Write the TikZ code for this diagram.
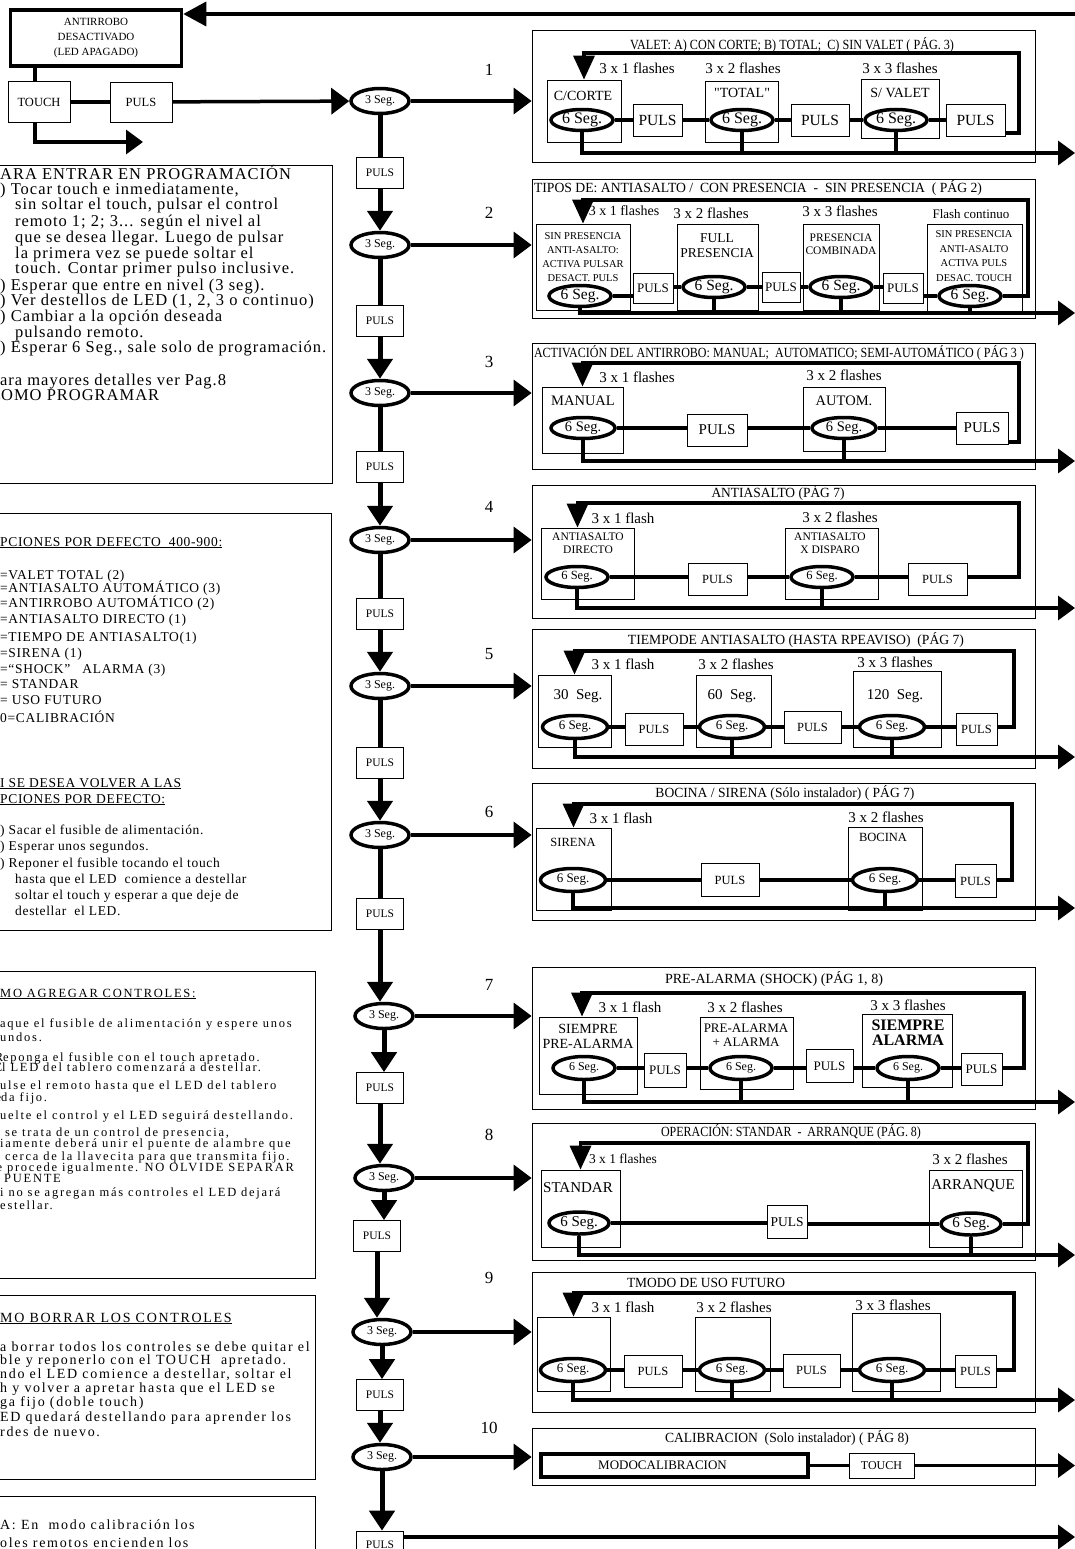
\documentclass[tikz,border=0pt]{standalone}
\usepackage{fontspec}
\usepackage{graphicx}
\setmainfont{Liberation Serif}
\newfontfamily\notefontA[LetterSpace=6]{Liberation Serif}
\newfontfamily\notefontB[LetterSpace=5]{Liberation Serif}
\newfontfamily\notefontC[LetterSpace=14]{Liberation Serif}
\newfontfamily\notefontD[LetterSpace=12]{Liberation Serif}
\newfontfamily\plainquote[Ligatures=TeXOff]{Liberation Serif}
\usetikzlibrary{arrows.meta,positioning,shapes.geometric}

\newcommand{\fsz}[1]{\fontsize{#1}{#1}\selectfont}
\newcommand{\fszb}[2]{\fontsize{#1}{#2}\selectfont}
\newcommand{\paneltitle}[2]{\resizebox{#1pt}{\height}{#2}}

\begin{document}
\begin{tikzpicture}[
  x=1pt, y=-1pt,
  thickline/.style  = {line width=3.5pt},
  bigarrow/.style   = {line width=3.5pt, -{Triangle[length=17pt,width=24pt]}},
  toparrow/.style   = {line width=3.5pt, -{Triangle[length=23pt,width=24pt]}},
  entryarrow/.style = {line width=3.5pt, -{Triangle[length=18pt,width=26pt]}},
  looparrow/.style  = {line width=3.5pt, -{Triangle[length=24pt,width=21pt]}},
  downarrow/.style  = {line width=5pt, -{Triangle[length=20pt,width=25pt]}},
  panel/.style      = {draw, line width=0.8pt, minimum width=503pt, inner sep=0pt},
  optbox/.style     = {draw, line width=0.8pt, inner sep=0pt},
  pulsbox/.style    = {draw, line width=0.8pt, fill=white, inner sep=0.5pt, minimum height=32pt},
  sixseg/.style     = {ellipse, draw, line width=3.5pt, fill=white, inner sep=0pt, minimum width=62pt, minimum height=21pt},
  threeseg/.style   = {ellipse, draw, line width=3.5pt, fill=white, inner sep=0pt, minimum width=58pt, minimum height=25pt, font=\fsz{12}},
  colpuls/.style    = {draw, line width=0.8pt, fill=white, minimum width=47pt, minimum height=31pt, inner sep=0pt, font=\fsz{11.5}},
  sidebox/.style    = {draw, line width=0.8pt, inner sep=0pt, font=\fsz{12.5}},
  flashlbl/.style   = {inner sep=0pt, font=\fsz{15}},
  optlbl/.style     = {inner sep=0pt, align=center},
  titlelbl/.style   = {inner sep=0pt, font=\fsz{14}},
  numlbl/.style     = {inner sep=0pt, font=\fsz{17}},
  noteframe/.style  = {draw, line width=0.8pt, inner sep=0pt},
  noteA/.style      = {anchor=base west, inner sep=0pt, font=\notefontA\fsz{16.5}},
  noteB/.style      = {anchor=base west, inner sep=0pt, font=\notefontB\fsz{13.5}},
  noteC/.style      = {anchor=base west, inner sep=0pt, font=\notefontC\fsz{12.5}},
  noteD/.style      = {anchor=base west, inner sep=0pt, font=\notefontD\fsz{14}},
]

  \useasboundingbox (0,0) rectangle (1075,1549);
  \clip (0,0) rectangle (1075,1549);
  \coordinate (redge) at (1075,0);

  % ---- start: antirrobo desactivado
  \node[draw, line width=3.5pt, minimum width=171pt, minimum height=56pt, inner sep=0pt, align=center, font=\fszb{11}{15}] (anti) at (96,38) {ANTIRROBO\\DESACTIVADO\\(LED APAGADO)};
  \node[sidebox, minimum width=62pt, minimum height=41pt] (touch) at (39,102) {TOUCH};
  \node[sidebox, minimum width=62pt, minimum height=40pt] (puls0) at (141,102) {PULS};
  \coordinate (topin) at (1075,14);
  \coordinate (touchout) at (143,142);
  \draw[toparrow] (topin) -- (topin -| anti.east);
  \draw[thickline] ([xshift=-4pt]touch.north) -- ([xshift=-4pt]touch.north |- anti.south);
  \draw[thickline] (touch) -- (puls0);
  \draw[bigarrow] ([xshift=-4pt]touch.south) |- (touchout);

  % ---- main column
  \node[threeseg] (s1) at (380,101) {3 Seg.};
  \node[threeseg] (s2) at (380,245) {3 Seg.};
  \node[threeseg] (s3) at (380,393) {3 Seg.};
  \node[threeseg] (s4) at (380,540) {3 Seg.};
  \node[threeseg] (s5) at (380,686) {3 Seg.};
  \node[threeseg] (s6) at (380,835) {3 Seg.};
  \node[threeseg] (s7) at (384,1016) {3 Seg.};
  \node[threeseg] (s8) at (384,1178) {3 Seg.};
  \node[threeseg] (s9) at (382,1332) {3 Seg.};
  \node[threeseg] (s10) at (382,1457) {3 Seg.};
  \node[colpuls] (c1) at (380,173) {PULS};
  \node[colpuls] (c2) at (380,321) {PULS};
  \node[colpuls] (c3) at (380,467) {PULS};
  \node[colpuls] (c4) at (380,614) {PULS};
  \node[colpuls] (c5) at (380,763) {PULS};
  \node[colpuls] (c6) at (380,914) {PULS};
  \node[colpuls] (c7) at (380,1088) {PULS};
  \node[colpuls] (c8) at (377,1236) {PULS};
  \node[colpuls] (c9) at (380,1395) {PULS};
  \node[colpuls, minimum height=28pt] (c10) at (380,1545) {PULS};
  \foreach \i/\yy in {1/70,2/213,3/362,4/507,5/654,6/812,7/985,8/1135,9/1278,10/1428}
    \node[numlbl] (n\i) at (489,\yy) {\i};

  \draw[entryarrow] (puls0) -- (s1);
  \foreach \i/\j in {1/2,2/3,3/4,4/5,5/6,6/7,7/8,8/9,9/10}
    \draw[downarrow] (c\i.south) -- (c\i.south |- s\j.north);
  \foreach \i in {1,...,6}
    \draw[line width=5pt] (s\i.south) -- (s\i.south |- c\i.north);
  \foreach \i in {7,...,10}
    \draw[downarrow] (s\i.south) -- (s\i.south |- c\i.north);
  \draw[bigarrow] ([yshift=8pt]c10.east) -- ([yshift=8pt]c10.east -| redge);

  % ---- level 1: valet
  \node[panel, minimum height=132pt] (p1) at (783.5,96) {};
  \node[titlelbl] (h1) at (792,45) {\paneltitle{324}{VALET: A) CON CORTE; B) TOTAL;~~C) SIN VALET ( PÁG. 3)}};
  \node[optbox, minimum width=74pt, minimum height=62pt] (b11) at (584,111) {};
  \node[optbox, minimum width=73pt, minimum height=61pt] (b12) at (741.5,111.5) {};
  \node[optbox, minimum width=78pt, minimum height=59pt] (b13) at (900,108.5) {};
  \node[flashlbl] (f11) at (637,68) {3 x 1 flashes};
  \node[flashlbl] (f12) at (743,68) {3 x 2 flashes};
  \node[flashlbl] (f13) at (900,68) {3 x 3 flashes};
  \node[optlbl, font=\fsz{14}] (t11) at (583,96) {C/CORTE};
  \node[optlbl, font=\fsz{14}] (t12) at (742,93) {{\plainquote"}TOTAL{\plainquote"}};
  \node[optlbl, font=\fsz{14}] (t13) at (900,93) {S/ VALET};
  \node[sixseg, font=\fsz{16}] (e11) at (582,120) {6 Seg.};
  \node[sixseg, font=\fsz{16}] (e12) at (742,120) {6 Seg.};
  \node[sixseg, font=\fsz{16}] (e13) at (896,120) {6 Seg.};
  \node[pulsbox, minimum width=49pt, font=\fsz{15.5}] (u11) at (657.5,120) {PULS};
  \node[pulsbox, minimum width=58pt, font=\fsz{15.5}] (u12) at (820,120) {PULS};
  \node[pulsbox, minimum width=59pt, font=\fsz{15.5}] (u13) at (975.5,120) {PULS};
  \coordinate (r1) at (1019,53);
  \coordinate (x1) at (1075,153);
  \draw[thickline] (e11) -- (u11) -- (e12) -- (u12) -- (e13) -- (u13);
  \draw[looparrow] ([yshift=-13pt]u13.east) -| (r1) -| (b11.north);
  \draw[bigarrow] (e11.south) |- (x1);
  \draw[thickline] (e12.south) -- (e12.south |- x1);
  \draw[thickline] (e13.south) -- (e13.south |- x1);

  % ---- level 2: antiasalto con / sin presencia
  \node[panel, minimum height=139pt] (p2) at (783.5,248.5) {};
  \node[titlelbl] (h2) at (758,188) {\paneltitle{448}{TIPOS DE: ANTIASALTO /~~CON PRESENCIA~~-~~SIN PRESENCIA~~( PÁG 2)}};
  \node[optbox, minimum width=94pt, minimum height=86pt] (b21) at (583,267) {};
  \node[optbox, minimum width=81pt, minimum height=86pt] (b22) at (717.5,267) {};
  \node[optbox, minimum width=76pt, minimum height=86pt] (b23) at (841,267) {};
  \node[optbox, minimum width=95pt, minimum height=88pt] (b24) at (974.5,268) {};
  \node[flashlbl, font=\fsz{14}] (f21) at (624,211) {3 x 1 flashes};
  \node[flashlbl] (f22) at (711,213) {3 x 2 flashes};
  \node[flashlbl] (f23) at (840,211) {3 x 3 flashes};
  \node[flashlbl, font=\fsz{13}] (f24) at (971,214) {Flash continuo};
  \node[optlbl, font=\fszb{10.5}{14}] (t21) at (583,257) {SIN PRESENCIA\\ANTI-ASALTO:\\ACTIVA PULSAR\\DESACT. PULS};
  \node[optlbl, font=\fszb{13.5}{15}] (t22) at (717,246) {FULL\\PRESENCIA};
  \node[optlbl, font=\fszb{11.5}{13}] (t23) at (841,244) {PRESENCIA\\COMBINADA};
  \node[optlbl, font=\fszb{10.5}{14.5}] (t24) at (974,256) {SIN PRESENCIA\\ANTI-ASALTO\\ACTIVA PULS\\DESAC. TOUCH};
  \node[sixseg, font=\fsz{15.5}] (e21) at (580,296) {6 Seg.};
  \node[sixseg, font=\fsz{15.5}] (e22) at (714,287) {6 Seg.};
  \node[sixseg, font=\fsz{15.5}] (e23) at (841,287) {6 Seg.};
  \node[sixseg, font=\fsz{15.5}] (e24) at (970,296) {6 Seg.};
  \node[pulsbox, minimum width=40pt, minimum height=30pt, font=\fsz{13}] (u21) at (653,288) {PULS};
  \node[pulsbox, minimum width=38pt, minimum height=30pt, font=\fsz{13}] (u22) at (781,287) {PULS};
  \node[pulsbox, minimum width=40pt, minimum height=30pt, font=\fsz{13}] (u23) at (903,288) {PULS};
  \coordinate (r2) at (1028,200);
  \coordinate (x2) at (1075,313);
  \draw[thickline] (e21.east) -- (e21.east -| u21.west);
  \draw[thickline] (u21.east |- e22.west) -- (e22.west);
  \draw[thickline] (e22) -- (u22) -- (e23);
  \draw[thickline] (e23.east) -- (e23.east -| u23.west);
  \draw[thickline] (u23.east |- e24.west) -- (e24.west);
  \draw[looparrow] (e24.east) -| (r2) -| (b21.north);
  \draw[bigarrow] (e21.south) |- (x2);
  \draw[thickline] (e22.south) -- (e22.south |- x2);
  \draw[thickline] (e23.south) -- (e23.south |- x2);
  \draw[thickline] (e24.south) -- (e24.south |- x2);

  % ---- level 3: activacion del antirrobo
  \node[panel, minimum height=126pt] (p3) at (783.5,406) {};
  \node[titlelbl] (h3) at (779,353) {\paneltitle{490}{ACTIVACIÓN DEL ANTIRROBO: MANUAL;~~AUTOMATICO; SEMI-AUTOMÁTICO ( PÁG 3 )}};
  \node[optbox, minimum width=81pt, minimum height=66pt] (b31) at (582.5,420) {};
  \node[optbox, minimum width=82pt, minimum height=64pt] (b32) at (844,419) {};
  \node[flashlbl] (f31) at (637,377) {3 x 1 flashes};
  \node[flashlbl] (f32) at (844,375) {3 x 2 flashes};
  \node[optlbl, font=\fsz{14.5}] (t31) at (583,401) {MANUAL};
  \node[optlbl, font=\fsz{14.5}] (t32) at (844,401) {AUTOM.};
  \node[sixseg, minimum width=64pt, font=\fsz{14.5}] (e31) at (583,428) {6 Seg.};
  \node[sixseg, minimum width=64pt, font=\fsz{14.5}] (e32) at (844,428) {6 Seg.};
  \node[pulsbox, minimum width=60pt, font=\fsz{15}] (u31) at (717,430) {PULS};
  \node[pulsbox, minimum width=52pt, font=\fsz{15}] (u32) at (982,428) {PULS};
  \coordinate (r3) at (1019,363);
  \coordinate (x3) at (1075,461);
  \draw[thickline] (e31) -- (e31 -| u31.west);
  \draw[thickline] (u31.east |- e32) -- (e32) -- (u32);
  \draw[looparrow] ([yshift=-14pt]u32.east) -| (r3) -| (b31.north);
  \draw[bigarrow] (e31.south) |- (x3);
  \draw[thickline] (e32.south) -- (e32.south |- x3);

  % ---- level 4: antiasalto
  \node[panel, minimum height=133pt] (p4) at (783.5,551.5) {};
  \node[titlelbl] (h4) at (778,493) {\paneltitle{133}{ANTIASALTO (PÁG 7)}};
  \node[optbox, minimum width=93pt, minimum height=71pt] (b41) at (587.5,563.5) {};
  \node[optbox, minimum width=93pt, minimum height=71pt] (b42) at (831.5,563.5) {};
  \node[flashlbl] (f41) at (623,518) {3 x 1 flash};
  \node[flashlbl] (f42) at (840,517) {3 x 2 flashes};
  \node[optlbl, font=\fszb{11.5}{13}] (t41) at (588,543) {ANTIASALTO\\DIRECTO};
  \node[optlbl, font=\fszb{11.5}{13}] (t42) at (830,543) {ANTIASALTO\\X DISPARO};
  \node[sixseg, font=\fsz{12.5}] (e41) at (577,577) {6 Seg.};
  \node[sixseg, font=\fsz{12.5}] (e42) at (822,577) {6 Seg.};
  \node[pulsbox, minimum width=59pt, font=\fsz{12.5}] (u41) at (717.5,579) {PULS};
  \node[pulsbox, minimum width=59pt, font=\fsz{12.5}] (u42) at (937.5,579) {PULS};
  \coordinate (r4) at (1019,503);
  \coordinate (x4) at (1075,608);
  \draw[thickline] (e41) -- (e41 -| u41.west);
  \draw[thickline] (u41.east |- e42) -- (e42);
  \draw[thickline] (e42) -- (e42 -| u42.west);
  \draw[looparrow] (u42.east |- e42) -| (r4) -| ([xshift=-10pt]b41.north);
  \draw[bigarrow] (e41.south) |- (x4);
  \draw[thickline] (e42.south) -- (e42.south |- x4);

  % ---- level 5: tiempo de antiasalto
  \node[panel, minimum height=139pt] (p5) at (783.5,698.5) {};
  \node[titlelbl] (h5) at (796,640) {\paneltitle{336}{TIEMPODE ANTIASALTO (HASTA RPEAVISO)~~(PÁG 7)}};
  \node[optbox, minimum width=73pt, minimum height=72pt] (b51) at (574.5,711) {};
  \node[optbox, minimum width=75pt, minimum height=72pt] (b52) at (733.5,711) {};
  \node[optbox, minimum width=88pt, minimum height=76pt] (b53) at (897,709) {};
  \node[flashlbl] (f51) at (623,664) {3 x 1 flash};
  \node[flashlbl] (f52) at (736,664) {3 x 2 flashes};
  \node[flashlbl] (f53) at (895,662) {3 x 3 flashes};
  \node[optlbl, font=\fsz{15}] (t51) at (578,696) {30~~Seg.};
  \node[optlbl, font=\fsz{15}] (t52) at (732,696) {60~~Seg.};
  \node[optlbl, font=\fsz{15}] (t53) at (895,696) {120~~Seg.};
  \node[sixseg, minimum width=65pt, minimum height=23pt, font=\fsz{13}] (e51) at (575,727) {6 Seg.};
  \node[sixseg, minimum width=65pt, minimum height=23pt, font=\fsz{13}] (e52) at (732,727) {6 Seg.};
  \node[sixseg, minimum width=65pt, minimum height=23pt, font=\fsz{13}] (e53) at (892,727) {6 Seg.};
  \node[pulsbox, minimum width=58pt, font=\fsz{12.5}] (u51) at (654,729) {PULS};
  \node[pulsbox, minimum width=57pt, font=\fsz{12.5}] (u52) at (812.5,727) {PULS};
  \node[pulsbox, minimum width=41pt, font=\fsz{12.5}] (u53) at (976.5,729) {PULS};
  \coordinate (r5) at (1014,651);
  \coordinate (x5) at (1075,757);
  \draw[thickline] (e51) -- (e51 -| u51.west);
  \draw[thickline] (u51.east |- e52) -- (e52) -- (u52) -- (e53);
  \draw[thickline] (e53) -- (e53 -| u53.west);
  \draw[looparrow] (u53.east |- e53) -| (r5) -| (b51.north);
  \draw[bigarrow] (e51.south) |- (x5);
  \draw[thickline] (e52.south) -- (e52.south |- x5);
  \draw[thickline] (e53.south) -- (e53.south |- x5);

  % ---- level 6: bocina / sirena
  \node[panel, minimum height=137pt] (p6) at (783.5,851.5) {};
  \node[titlelbl] (h6) at (785,793) {\paneltitle{259}{BOCINA / SIRENA (Sólo instalador) ( PÁG 7)}};
  \node[optbox, minimum width=75pt, minimum height=82pt] (b61) at (573.5,869) {};
  \node[optbox, minimum width=74pt, minimum height=83pt] (b62) at (885,868.5) {};
  \node[flashlbl] (f61) at (621,818) {3 x 1 flash};
  \node[flashlbl] (f62) at (886,817) {3 x 2 flashes};
  \node[optlbl, font=\fsz{12.5}] (t61) at (573,842) {SIRENA};
  \node[optlbl, font=\fsz{12.5}] (t62) at (883,837) {BOCINA};
  \node[sixseg, minimum width=65pt, minimum height=23pt, font=\fsz{13}] (e61) at (573,880) {6 Seg.};
  \node[sixseg, minimum width=65pt, minimum height=23pt, font=\fsz{13}] (e62) at (885,880) {6 Seg.};
  \node[pulsbox, minimum width=58pt, minimum height=33pt, font=\fsz{12.5}] (u61) at (730,880) {PULS};
  \node[pulsbox, minimum width=41pt, minimum height=33pt, font=\fsz{12.5}] (u62) at (975.5,881) {PULS};
  \coordinate (r6) at (1012,804);
  \coordinate (x6) at (1075,908);
  \draw[thickline] (e61) -- (u61) -- (e62);
  \draw[thickline] (e62) -- (e62 -| u62.west);
  \draw[looparrow] (u62.east |- e62) -| (r6) -| (b61.north);
  \draw[bigarrow] (e61.south) |- (x6);
  \draw[thickline] (e62.south) -- (e62.south |- x6);

  % ---- level 7: pre-alarma
  \node[panel, minimum height=142pt] (p7) at (783.5,1038) {};
  \node[titlelbl] (h7) at (774,979) {\paneltitle{218}{PRE-ALARMA (SHOCK) (PÁG 1, 8)}};
  \node[optbox, minimum width=98pt, minimum height=77pt] (b71) at (588,1055.5) {};
  \node[optbox, minimum width=93pt, minimum height=72pt] (b72) at (746.5,1053) {};
  \node[optbox, minimum width=90pt, minimum height=73pt] (b73) at (907,1050.5) {};
  \node[flashlbl] (f71) at (630,1007) {3 x 1 flash};
  \node[flashlbl] (f72) at (745,1007) {3 x 2 flashes};
  \node[flashlbl] (f73) at (908,1005) {3 x 3 flashes};
  \node[optlbl, font=\fszb{14}{15}] (t71) at (588,1036) {SIEMPRE\\PRE-ALARMA};
  \node[optlbl, font=\fszb{13}{14}] (t72) at (746,1035) {PRE-ALARMA\\+ ALARMA};
  \node[optlbl, font=\fszb{16}{15}\bfseries] (t73) at (908,1033) {SIEMPRE\\ALARMA};
  \node[sixseg, minimum height=23pt, font=\fsz{12}] (e71) at (584,1068) {6 Seg.};
  \node[sixseg, minimum height=23pt, font=\fsz{12}] (e72) at (741,1068) {6 Seg.};
  \node[sixseg, minimum height=23pt, font=\fsz{12}] (e73) at (908,1068) {6 Seg.};
  \node[pulsbox, minimum width=42pt, minimum height=34pt, font=\fsz{13}] (u71) at (665,1070) {PULS};
  \node[pulsbox, minimum width=47pt, minimum height=33pt, font=\fsz{13}] (u72) at (829.5,1066) {PULS};
  \node[pulsbox, minimum width=41pt, minimum height=32pt, font=\fsz{13}] (u73) at (981.5,1069) {PULS};
  \coordinate (r7) at (1024,993);
  \coordinate (x7) at (1075,1102);
  \draw[thickline] (e71) -- (e71 -| u71.west);
  \draw[thickline] (u71.east |- e72) -- (e72) -- (e72 -| u72.west);
  \draw[thickline] (u72.east |- e73) -- (e73) -- (e73 -| u73.west);
  \draw[looparrow] (u73.east |- e73) -| (r7) -| ([xshift=-6pt]b71.north);
  \draw[bigarrow] (e71.south) |- (x7);
  \draw[thickline] (e72.south) -- (e72.south |- x7);
  \draw[thickline] (e73.south) -- (e73.south |- x7);

  % ---- level 8: operacion standar / arranque
  \node[panel, minimum height=137pt] (p8) at (783.5,1191.5) {};
  \node[titlelbl] (h8) at (791,1132) {\paneltitle{260}{OPERACIÓN: STANDAR~~-~~ARRANQUE (PÁG. 8)}};
  \node[optbox, minimum width=79pt, minimum height=77pt] (b81) at (580.5,1208.5) {};
  \node[optbox, minimum width=93pt, minimum height=77pt] (b82) at (975.5,1208.5) {};
  \node[flashlbl, font=\fsz{13.5}] (f81) at (623,1159) {3 x 1 flashes};
  \node[flashlbl] (f82) at (970,1159) {3 x 2 flashes};
  \node[optlbl, font=\fsz{15}] (t81) at (578,1188) {STANDAR};
  \node[optlbl, font=\fsz{15}] (t82) at (973,1186) {ARRANQUE};
  \node[sixseg, minimum width=60pt, minimum height=22pt, font=\fsz{15}] (e81) at (579,1223) {6 Seg.};
  \node[sixseg, minimum width=60pt, minimum height=22pt, font=\fsz{15}] (e82) at (971,1224) {6 Seg.};
  \node[pulsbox, minimum width=40pt, minimum height=33pt, font=\fsz{13.5}] (u81) at (787,1222) {PULS};
  \coordinate (r8) at (1028,1143);
  \coordinate (x8) at (1075,1255);
  \draw[thickline] (e81) -- (e81 -| u81.west);
  \draw[thickline] (u81.east |- e82) -- (e82);
  \draw[looparrow] (e82.east) -| (r8) -| (b81.north);
  \draw[bigarrow] (e81.south) |- (x8);
  \draw[thickline] (e82.south) -- (e82.south |- x8);

  % ---- level 9: uso futuro
  \node[panel, minimum height=140pt] (p9) at (783.5,1342) {};
  \node[titlelbl] (h9) at (706,1283) {\paneltitle{158}{TMODO DE USO FUTURO}};
  \node[optbox, minimum width=73pt, minimum height=74pt] (b91) at (573.5,1354) {};
  \node[optbox, minimum width=75pt, minimum height=74pt] (b92) at (732.5,1354) {};
  \node[optbox, minimum width=88pt, minimum height=78pt] (b93) at (896,1352) {};
  \node[flashlbl] (f91) at (623,1307) {3 x 1 flash};
  \node[flashlbl] (f92) at (734,1307) {3 x 2 flashes};
  \node[flashlbl] (f93) at (893,1305) {3 x 3 flashes};
  \node[sixseg, minimum width=65pt, minimum height=23pt, font=\fsz{13}] (e91) at (573,1370) {6 Seg.};
  \node[sixseg, minimum width=65pt, minimum height=23pt, font=\fsz{13}] (e92) at (732,1370) {6 Seg.};
  \node[sixseg, minimum width=65pt, minimum height=23pt, font=\fsz{13}] (e93) at (892,1370) {6 Seg.};
  \node[pulsbox, minimum width=58pt, font=\fsz{12.5}] (u91) at (653,1371) {PULS};
  \node[pulsbox, minimum width=57pt, minimum height=33pt, font=\fsz{12.5}] (u92) at (811.5,1370.5) {PULS};
  \node[pulsbox, minimum width=41pt, font=\fsz{12.5}] (u93) at (975.5,1371) {PULS};
  \coordinate (r9) at (1014,1293);
  \coordinate (x9) at (1075,1400);
  \draw[thickline] (e91) -- (e91 -| u91.west);
  \draw[thickline] (u91.east |- e92) -- (e92) -- (e92 -| u92.west);
  \draw[thickline] (u92.east |- e93) -- (e93) -- (e93 -| u93.west);
  \draw[looparrow] (u93.east |- e93) -| (r9) -| (b91.north);
  \draw[bigarrow] (e91.south) |- (x9);
  \draw[thickline] (e92.south) -- (e92.south |- x9);
  \draw[thickline] (e93.south) -- (e93.south |- x9);

  % ---- level 10: calibracion
  \node[panel, minimum height=57pt] (p10) at (783.5,1456.5) {};
  \node[titlelbl] (h10) at (787,1438) {\paneltitle{244}{CALIBRACION~~(Solo instalador) ( PÁG 8)}};
  \node[draw, line width=3.5pt, minimum width=267pt, minimum height=23pt, inner sep=0pt, font=\fsz{13}] (m10) at (674.5,1465.5) {MODOCALIBRACION\hspace*{24pt}};
  \node[optbox, minimum width=65pt, minimum height=25pt, font=\fsz{12}] (u10) at (881.5,1465.5) {TOUCH};
  \coordinate (x10) at (1075,1465.5);
  \draw[line width=3pt] (m10) -- (u10);
  \draw[bigarrow] (u10.east) -- (x10);

  % ---- entry arrows into the levels
  \foreach \i in {1,...,10}
    \draw[entryarrow] (s\i.east) -- (s\i.east -| p\i.west);

  % ---- notes on the left
  \node[noteframe, minimum width=337pt, minimum height=318pt] (boxa) at (163.5,324) {};
  \node[noteframe, minimum width=336pt, minimum height=417pt] (boxb) at (163,721.5) {};
  \node[noteframe, minimum width=320pt, minimum height=307pt] (boxc) at (155,1124.5) {};
  \node[noteframe, minimum width=320pt, minimum height=184pt] (boxd) at (155,1387) {};
  \node[noteframe, minimum width=320pt, minimum height=104pt] (boxe) at (155,1548) {};

  \foreach \yy/\xx/\ltxt [count=\k] in {
    179/0/{\llap{P}ARA ENTRAR EN PROGRAMACIÓN},
    194/0/{\llap{1}) Tocar touch e inmediatamente,},
    210/15/{sin soltar el touch, pulsar el control},
    226/15/{remoto 1; 2; 3... según el nivel al},
    242/15/{que se desea llegar. Luego de pulsar},
    258/15/{la primera vez se puede soltar el},
    273/15/{touch. Contar primer pulso inclusive.},
    290/0/{\llap{2}) Esperar que entre en nivel (3 seg).},
    305/0/{\llap{3}) Ver destellos de LED (1, 2, 3 o continuo)},
    321/0/{\llap{4}) Cambiar a la opción deseada},
    337/15/{pulsando remoto.},
    352/0/{\llap{5}) Esperar 6 Seg., sale solo de programación.},
    385/0/{\llap{P}ara mayores detalles ver Pag.8},
    400/1/{\llap{C}OMO PROGRAMAR}}
    \node[noteA] (a\k) at (\xx,\yy) {\ltxt};

  \foreach \yy/\xx/\ltxt [count=\k] in {
    546/0/{\underline{\llap{O}PCIONES POR DEFECTO~~400-900:}},
    579/0/{\llap{1}=VALET TOTAL (2)},
    592/0/{\llap{2}=ANTIASALTO AUTOMÁTICO (3)},
    607/0/{\llap{3}=ANTIRROBO AUTOMÁTICO (2)},
    623/0/{\llap{4}=ANTIASALTO DIRECTO (1)},
    641/0/{\llap{5}=TIEMPO DE ANTIASALTO(1)},
    657/0/{\llap{6}=SIRENA (1)},
    673/0/{\llap{7}=“SHOCK”~~~ALARMA (3)},
    688/0/{\llap{8}= STANDAR},
    704/0/{\llap{9}= USO FUTURO},
    722/0/{\llap{1}0=CALIBRACIÓN},
    787/0/{\underline{\llap{S}I SE DESEA VOLVER A LAS}},
    803/0/{\underline{\llap{O}PCIONES POR DEFECTO:}},
    834/0/{\llap{1}) Sacar el fusible de alimentación.},
    850/0/{\llap{2}) Esperar unos segundos.},
    867/0/{\llap{3}) Reponer el fusible tocando el touch},
    883/15/{hasta que el LED~~comience a destellar},
    899/15/{soltar el touch y esperar a que deje de},
    915/15/{destellar~~el LED.}}
    \node[noteB] (o\k) at (\xx,\yy) {\ltxt};

  \foreach \yy/\xx/\ltxt [count=\k] in {
    997/0/{\underline{\llap{CO}MO AGREGAR CONTROLES:}},
    1027/0/{\llap{1) S}aque el fusible de alimentación y espere unos},
    1041/0/{\llap{seg}undos.},
    1061/3/{\llap{2) R}eponga el fusible con el touch apretado.},
    1071/2/{\llap{3) E}l LED del tablero comenzará a destellar.},
    1089/0/{\llap{4) P}ulse el remoto hasta que el LED del tablero},
    1101/1/{\llap{que}da fijo.},
    1119/0/{\llap{5) S}uelte el control y el LED seguirá destellando.},
    1136/0/{\llap{6) Si} se trata de un control de presencia,},
    1147/0/{\llap{prev}iamente deberá unir el puente de alambre que},
    1160/0/{\llap{está} cerca de la llavecita para que transmita fijo.},
    1171/2/{\llap{Se} procede igualmente. NO OLVIDE SEPARAR},
    1182/4/{\llap{EL }PUENTE},
    1196/0/{\llap{7) S}i no se agregan más controles el LED dejará},
    1209/0/{\llap{de d}estellar.}}
    \node[noteC] (g\k) at (\xx,\yy) {\ltxt};

  \foreach \yy/\xx/\ltxt [count=\k] in {
    1322/0/{\underline{\llap{CO}MO BORRAR LOS CONTROLES}},
    1351/0/{\llap{Par}a borrar todos los controles se debe quitar el},
    1364/0/{\llap{fusi}ble y reponerlo con el TOUCH~~apretado.},
    1378/0/{\llap{Cua}ndo el LED comience a destellar, soltar el},
    1392/0/{\llap{touc}h y volver a apretar hasta que el LED se},
    1406/0/{\llap{pon}ga fijo (doble touch)},
    1421/0/{\llap{El L}ED quedará destellando para aprender los},
    1436/0/{\llap{aco}rdes de nuevo.},
    1529/0/{\llap{NOT}A: En~~modo calibración los},
    1547/0/{\llap{contr}oles remotos encienden los}}
    \node[noteD] (d\k) at (\xx,\yy) {\ltxt};

\end{tikzpicture}
\end{document}
